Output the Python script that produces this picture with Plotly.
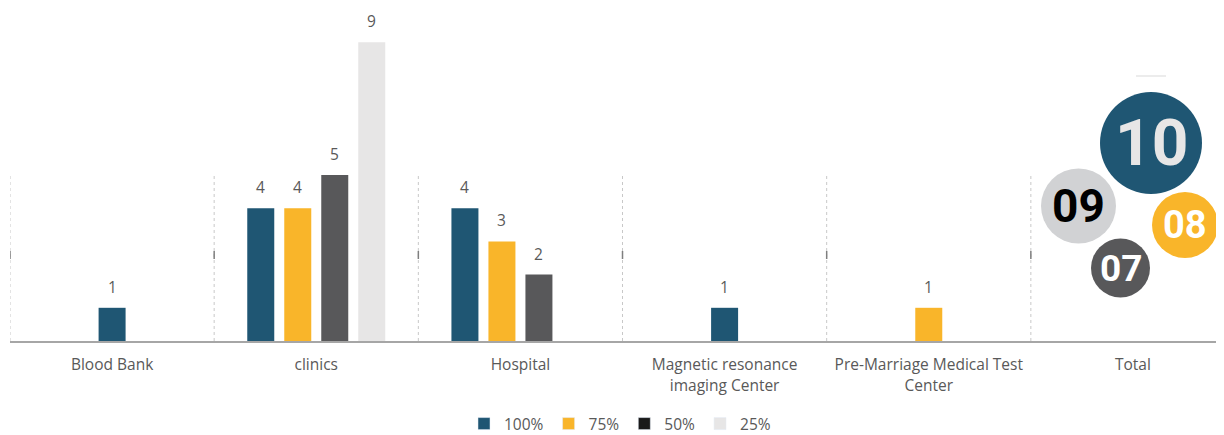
import plotly.graph_objects as go

# ---------------- data ----------------
categories = ["Blood Bank", "clinics", "Hospital",
              "Magnetic resonance<br>imaging Center",
              "Pre-Marriage Medical Test<br>Center", "Total"]
series_names = ["100%", "75%", "50%", "25%"]
v100 = [1, 4, 4, 1, None, None]
v75 = [None, 4, 3, None, 1, None]
v50 = [None, 5, 2, None, None, None]
v25 = [None, 9, 0, None, None, None]

bubble_labels = ["10", "09", "08", "07"]

# ---------------- style ----------------
bar_colors = ["#1F5673", "#F9B52A", "#58585A", "#E7E6E6"]
legend_colors = ["#1F5673", "#F9B52A", "#1A1A1A", "#E7E6E6"]
TXT = "#595959"
FONT = "Open Sans"
FS = 15.5

OFF = 8  # page offset of the figure inside the browser window
W, H = 1224, 435
ML, MR, MT = 10 - OFF, OFF, 0
BASE = 341 - OFF  # baseline in figure coords
MB = H - BASE
PW, PH = W - ML - MR, BASE - MT
PX_PER_UNIT = 33.2
XMIN, XMAX = -0.5, 5.446
px_per_cat = PW / (XMAX - XMIN)
slot = 37 / px_per_cat
bw = 27 / px_per_cat

series = [v100, v75, v50, v25]

fig = go.Figure()
xs_all = [[] for _ in series]
ys_all = [[] for _ in series]
for i in range(len(categories)):
    present = [k for k in range(len(series)) if series[k][i] is not None]
    n = len(present)
    for j, k in enumerate(present):
        xs_all[k].append(i + (j - (n - 1) / 2) * slot)
        ys_all[k].append(series[k][i])

annotations = []
for k, name in enumerate(series_names):
    fig.add_trace(go.Bar(x=xs_all[k], y=ys_all[k], width=bw,
                         marker=dict(color=bar_colors[k], line=dict(width=0)),
                         name=name, showlegend=False, hoverinfo="skip"))
    fig.add_trace(go.Bar(x=[None], y=[None], name=name,
                         marker=dict(color=legend_colors[k]), showlegend=True))
    for x, y in zip(xs_all[k], ys_all[k]):
        if y:
            annotations.append(dict(x=x, y=y, xref="x", yref="y", text=str(y),
                                    showarrow=False, yanchor="bottom", yshift=8,
                                    font=dict(family=FONT, size=FS, color=TXT)))


def sy(y):  # screen y -> paper y
    return (BASE - (y - OFF)) / PH


def sx(x):  # screen x -> paper x
    return (x - OFF - ML) / PW


# separators (dashed vertical lines between categories)
shapes = []
for b in [c - 0.5 for c in range(len(categories))]:
    shapes.append(dict(type="line", xref="x", yref="paper", x0=b, x1=b, y0=0, y1=sy(173),
                       line=dict(color="#C8C8C8", width=1, dash="dot")))
    shapes.append(dict(type="line", xref="x", yref="paper", x0=b, x1=b, y0=sy(259), y1=sy(251),
                       line=dict(color="#7F7F7F", width=1.5)))

# bubbles (decorative, "Total" column)
bubble_pos = [(1151, 143, 51), (1078.5, 206, 37.5), (1185, 225, 33), (1120.5, 268, 29.5)]
bubble_fill = ["#1F5673", "#D1D2D4", "#F9B52A", "#58585A"]
bubble_txt = ["#E7E6E6", "#000000", "#FFFFFF", "#FFFFFF"]
bubble_fs = [64, 46, 38, 37]
BFONT = "Liberation Sans Narrow, Roboto, sans-serif"
for (cx, cy, r), fc, tc, fs, lab in zip(bubble_pos, bubble_fill, bubble_txt, bubble_fs, bubble_labels):
    ax, ay = sx(cx), sy(cy)
    shapes.append(dict(type="circle", xref="paper", yref="paper",
                       xsizemode="pixel", ysizemode="pixel", xanchor=ax, yanchor=ay,
                       x0=-r, x1=r, y0=-r, y1=r, fillcolor=fc, line=dict(width=0),
                       layer="above"))
    annotations.append(dict(x=ax, y=ay, xref="paper", yref="paper", text="<b>%s</b>" % lab,
                            showarrow=False, xanchor="center", yanchor="middle",
                            font=dict(family=BFONT, size=fs, color=tc)))
# small grey dash above bubbles
shapes.append(dict(type="line", xref="paper", yref="paper",
                   x0=sx(1136), x1=sx(1166), y0=sy(76), y1=sy(76),
                   line=dict(color="#D9D9D9", width=1)))

fig.update_layout(
    width=W, height=H,
    margin=dict(l=ML, r=MR, t=MT, b=MB, autoexpand=False),
    paper_bgcolor="white", plot_bgcolor="white",
    barmode="overlay",
    font=dict(family=FONT, size=FS, color=TXT),
    xaxis=dict(range=[XMIN, XMAX], tickvals=list(range(len(categories))),
               ticktext=categories, showgrid=False, zeroline=False,
               showline=True, linecolor="#A6A6A6", linewidth=1.5,
               ticks="", ticklabelstandoff=9, automargin=False,
               tickfont=dict(family=FONT, size=FS, color=TXT)),
    yaxis=dict(range=[0, PH / PX_PER_UNIT], visible=False),
    legend=dict(orientation="h", x=0.5, xanchor="center", xref="container",
                yref="container", y=(H - (424 - OFF)) / H, yanchor="middle",
                font=dict(family=FONT, size=FS, color=TXT),
                itemwidth=30, bgcolor="rgba(0,0,0,0)"),
    shapes=shapes, annotations=annotations,
)

fig.write_html("out.html")
